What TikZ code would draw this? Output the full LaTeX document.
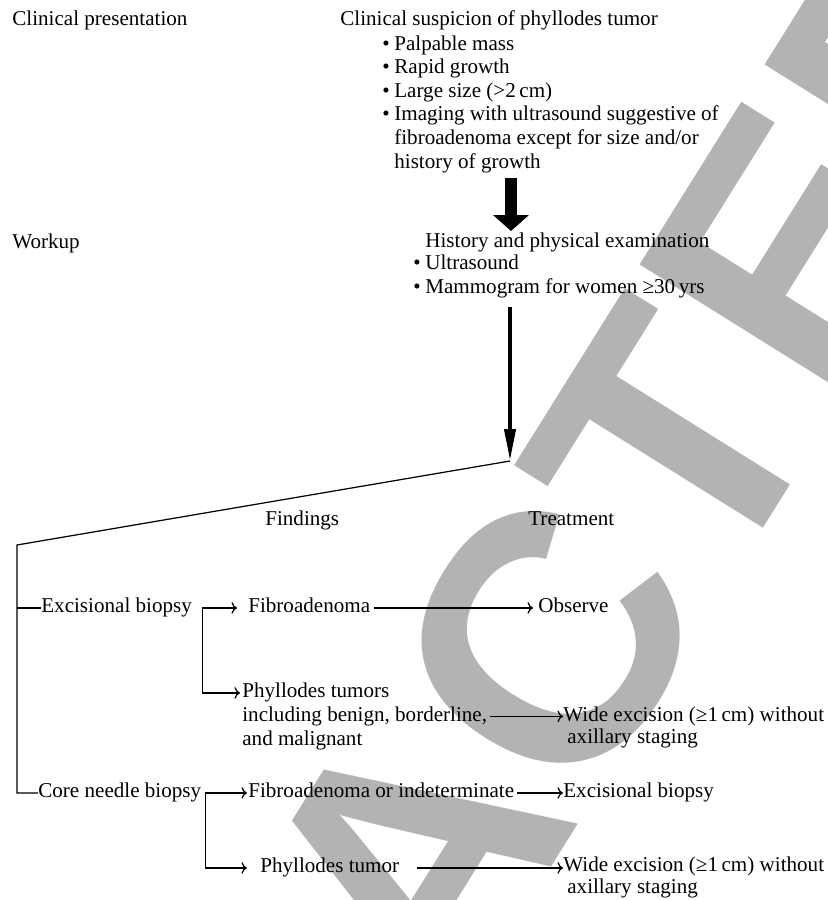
\documentclass[tikz,border=0pt]{standalone}
\usepackage{fontspec}
\setmainfont{Liberation Serif}
\newfontfamily\wmfont{Liberation Sans}
\usepackage{tikz}
\usetikzlibrary{arrows,arrows.meta}
\definecolor{wmgray}{RGB}{179,179,179}
\newcommand{\bul}{\makebox[0.24cm][l]{\textbullet}}

\begin{document}
\begin{tikzpicture}[x=0.02cm,y=-0.02cm]
      \tikzstyle{every node}=[inner sep=0,anchor=base west,align=left,font=\fontsize{12}{13.4}\selectfont]
      \tikzstyle{wide}=[font=\fontsize{12}{12}\selectfont]
      \tikzstyle{flow}=[->,line width=0.7pt]
      \tikzstyle{bigarrow}=[line width=0.24cm,-{Triangle[width=0.7cm,length=0.32cm]}]
      \tikzstyle{longarrow}=[line width=0.08cm,-{Triangle[width=0.22cm,length=0.64cm]}]

      \useasboundingbox (0,0) rectangle (828,900);
      \begin{scope}
        \clip (0,0) rectangle (828,900);
        \node[anchor=center,rotate=58,text=wmgray,font=\wmfont\bfseries\fontsize{202}{202}\selectfont] (wm) at (412,860) {RETRACTED};
      \end{scope}

      % multi-line nodes sit on the baseline of their last line
      \node (pres) at (12,25) {Clinical presentation};
      \node (susp) at (340,25) {Clinical suspicion of phyllodes tumor};
      \node (sympt) at (382,168) {\bul Palpable mass\\\bul Rapid growth\\\bul Large size (>2\,cm)\\\bul Imaging with ultrasound suggestive of\\\hspace{0.24cm}fibroadenoma except for size and/or\\\hspace{0.24cm}history of growth};

      \node (work) at (12,248) {Workup};
      \node (hist) at (425,247) {History and physical examination};
      \node (exams) at (413,293) {\bul Ultrasound\\\bul Mammogram for women ≥30\,yrs};

      \node (find) at (265,525) {Findings};
      \node (treat) at (528,525) {Treatment};

      \node (exc) at (41,612) {Excisional biopsy};
      \node (fib) at (248,612) {Fibroadenoma};
      \node (obs) at (538,612) {Observe};
      \node (phy) at (242,745) {Phyllodes tumors\\including benign, borderline,\\and malignant};
      \node[wide] (wide1) at (563,743) {Wide excision (≥1\,cm) without\\\hspace{0.08cm}axillary staging};

      \node (core) at (38,797) {Core needle biopsy};
      \node (fibi) at (248,797) {Fibroadenoma or indeterminate};
      \node (excb) at (563,797) {Excisional biopsy};
      \node (phyt) at (260,872) {Phyllodes tumor};
      \node[wide] (wide2) at (563,893) {Wide excision (≥1\,cm) without\\\hspace{0.08cm}axillary staging};

      \coordinate (t1) at (511,178);
      \coordinate (t2) at (511,231);
      \coordinate (w1) at (510,307);
      \coordinate (fork) at (510,461);
      \coordinate (c0) at (17,545);
      \coordinate (b1) at ([xshift=0.2cm]exc.mid east);
      \coordinate (b2) at ([xshift=0.08cm]core.mid east);

      \draw[bigarrow] (t1) -- (t2);
      \draw[longarrow] (w1) -- (fork);

      \draw[line width=0.7pt] (fork) -- (c0) |- (core.mid west);
      \draw[line width=0.7pt] (c0 |- exc.mid west) -- (exc.mid west);

      \draw[flow] (b1) -- ([xshift=-0.22cm]fib.mid west);
      \draw[flow] (b1) |- ([xshift=-0.04cm,yshift=-0.2cm]phy.north west);
      \draw[flow,shorten <=0.08cm,shorten >=0.1cm] (fib.mid east) -- (fib.mid east -| obs.west);
      \draw[flow,shorten <=0.06cm] (phy.east) -- (phy.east -| wide1.west);

      \draw[flow] (b2) -- ([xshift=-0.02cm]fibi.mid west);
      \draw[flow] (b2) |- ([xshift=-0.26cm]phyt.mid west);
      \draw[flow,shorten <=0.04cm] (fibi.mid east) -- (fibi.mid east -| excb.west);
      \draw[flow,shorten <=0.34cm] (phyt.mid east) -- (phyt.mid east -| wide2.west);

    \end{tikzpicture}
\end{document}
